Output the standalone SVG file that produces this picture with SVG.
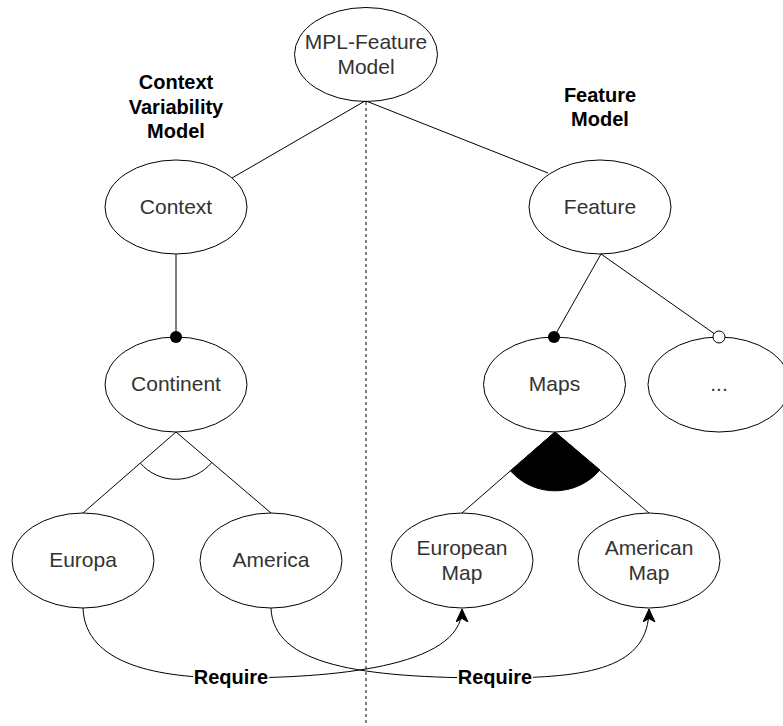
<svg xmlns="http://www.w3.org/2000/svg" width="783" height="726" viewBox="0 0 783 726">
  <style>
    .node ellipse { fill: #ffffff; stroke: #000000; stroke-width: 1; }
    .lbl { font-family: "Liberation Sans", Arial, sans-serif; font-size: 21px; fill: #333333; text-anchor: middle; }
    .title { font-family: "Liberation Sans", Arial, sans-serif; font-size: 20px; font-weight: bold; fill: #000000; text-anchor: middle; }
    .edge { fill: none; stroke: #000000; stroke-width: 1; }
    .divider { fill: none; stroke: #000000; stroke-width: 1; stroke-dasharray: 3 3; }
  </style>
  <defs>
    <marker id="arrow" viewBox="0 0 13 13" refX="13" refY="6.5" markerWidth="13" markerHeight="13" markerUnits="userSpaceOnUse" orient="auto">
      <path d="M0,0.5 L13,6.5 L0,12.5 L3.5,6.5 Z" fill="#000000" stroke="#000000" stroke-width="1"/>
    </marker>
  </defs>

  <rect x="0" y="0" width="783" height="726" fill="#ffffff"/>

  <!-- divider between the two models -->
  <line class="divider" x1="366" y1="102" x2="366" y2="726"/>

  <!-- section titles -->
  <g id="title-context">
    <text class="title" x="176" y="89">Context</text>
    <text class="title" x="176" y="114">Variability</text>
    <text class="title" x="176" y="138">Model</text>
  </g>
  <g id="title-feature">
    <text class="title" x="600" y="102">Feature</text>
    <text class="title" x="600" y="126">Model</text>
  </g>

  <!-- nodes -->
  <g id="mpl-feature-model" class="node">
    <ellipse cx="366" cy="54.5" rx="71.5" ry="47"/>
    <text class="lbl" x="366" y="49">MPL-Feature</text>
    <text class="lbl" x="366" y="74">Model</text>
  </g>
  <g id="context" class="node">
    <ellipse cx="176" cy="207" rx="71" ry="47"/>
    <text class="lbl" x="176" y="214">Context</text>
  </g>
  <g id="feature" class="node">
    <ellipse cx="600" cy="207" rx="71" ry="47"/>
    <text class="lbl" x="600" y="214">Feature</text>
  </g>
  <g id="continent" class="node">
    <ellipse cx="176" cy="384.5" rx="71" ry="47.5"/>
    <text class="lbl" x="176" y="391">Continent</text>
  </g>
  <g id="maps" class="node">
    <ellipse cx="554.5" cy="384.5" rx="71" ry="47.5"/>
    <text class="lbl" x="554.5" y="391">Maps</text>
  </g>
  <g id="more" class="node">
    <ellipse cx="719" cy="384.5" rx="71" ry="47.5"/>
    <text class="lbl" x="719" y="391">...</text>
  </g>
  <g id="europa" class="node">
    <ellipse cx="83" cy="560.5" rx="71" ry="47.5"/>
    <text class="lbl" x="83" y="567">Europa</text>
  </g>
  <g id="america" class="node">
    <ellipse cx="271" cy="560.5" rx="71" ry="47.5"/>
    <text class="lbl" x="271" y="567">America</text>
  </g>
  <g id="european-map" class="node">
    <ellipse cx="462" cy="560.5" rx="71" ry="47.5"/>
    <text class="lbl" x="462" y="555">European</text>
    <text class="lbl" x="462" y="580">Map</text>
  </g>
  <g id="american-map" class="node">
    <ellipse cx="649" cy="560.5" rx="71" ry="47.5"/>
    <text class="lbl" x="649" y="555">American</text>
    <text class="lbl" x="649" y="580">Map</text>
  </g>

  <!-- connectors -->
  <g id="connectors">
    <line class="edge" x1="365" y1="101" x2="232" y2="178"/>
    <line class="edge" x1="366" y1="101" x2="548" y2="173"/>
    <line class="edge" x1="176" y1="254" x2="176" y2="337"/>
    <line class="edge" x1="601" y1="254" x2="554" y2="337"/>
    <line class="edge" x1="601" y1="254" x2="719" y2="337"/>
    <line class="edge" x1="176" y1="432" x2="83" y2="513"/>
    <line class="edge" x1="176" y1="432" x2="271" y2="513"/>
    <line class="edge" x1="555" y1="432" x2="462" y2="513"/>
    <line class="edge" x1="555" y1="432" x2="649" y2="513"/>
    <!-- alternative group arc -->
    <path class="edge" d="M140.3,463.1 A47,47 0 0,0 211.8,462.5"/>
    <!-- or group sector -->
    <path d="M555,432 L510.5,470.8 A59,59 0 0,0 599.9,469.9 Z" fill="#000000" stroke="#000000" stroke-width="1"/>
    <!-- mandatory / optional markers -->
    <circle cx="176" cy="337" r="6" fill="#000000"/>
    <circle cx="554" cy="337" r="6" fill="#000000"/>
    <circle cx="719" cy="337" r="6" fill="#ffffff" stroke="#000000" stroke-width="1"/>
    <!-- require constraints -->
    <path class="edge" d="M83,608 C85,665 160,678 231,678 C330,678 462,668 462,609" marker-end="url(#arrow)"/>
    <path class="edge" d="M271,608 C273,665 360,678 495,678 C590,678 649,668 649,609" marker-end="url(#arrow)"/>
    <rect x="193" y="668" width="76" height="22" fill="#ffffff"/>
    <text class="title" x="231" y="684">Require</text>
    <rect x="457" y="668" width="76" height="22" fill="#ffffff"/>
    <text class="title" x="495" y="684">Require</text>
  </g>
</svg>
